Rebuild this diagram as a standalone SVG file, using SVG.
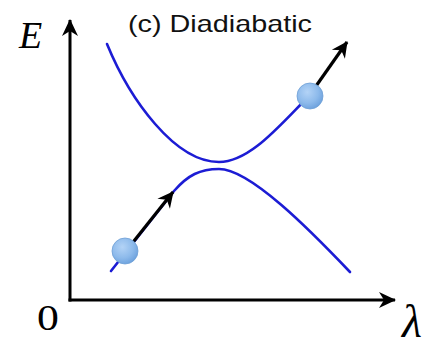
<svg xmlns="http://www.w3.org/2000/svg" width="433" height="347" viewBox="0 0 433 347">
<style>
.axis{stroke:#000;stroke-width:3;fill:none}
.curve{stroke:#1c1cd4;stroke-width:2.6;fill:none;stroke-linecap:round}
.arr{stroke:#000;stroke-width:3.2;fill:none}
.ball{fill:url(#bg);stroke:#6f9fd6;stroke-width:0.8}
.serif{font-family:"Liberation Serif","Times New Roman",serif;fill:#000}
.sans{font-family:"Liberation Sans",Arial,sans-serif;fill:#111}
</style>
<defs>
<marker id="ah" markerUnits="userSpaceOnUse" markerWidth="20" markerHeight="20" refX="0" refY="0" viewBox="-18 -10 20 20" orient="auto">
<path d="M1,0 L-16,-8 L-11,0 L-16,8 Z" fill="#000"/>
</marker>
<marker id="ah2" markerUnits="userSpaceOnUse" markerWidth="20" markerHeight="20" refX="0" refY="0" viewBox="-18 -10 20 20" orient="auto">
<path d="M1,0 L-15,-8 L-10,0 L-15,8 Z" fill="#000"/>
</marker>
<radialGradient id="bg" cx="0.4" cy="0.35" r="0.7">
<stop offset="0" stop-color="#b3d3f6"/>
<stop offset="0.6" stop-color="#8dbaeb"/>
<stop offset="1" stop-color="#6a9fdc"/>
</radialGradient>
</defs>
<g id="axes">
<line class="axis" x1="70" y1="301.5" x2="70" y2="20" marker-end="url(#ah)"/>
<line class="axis" x1="68.5" y1="300" x2="395" y2="300" marker-end="url(#ah)"/>
</g>
<g id="title"><text class="sans" x="128" y="32" font-size="24" textLength="184" lengthAdjust="spacingAndGlyphs">(c) Diadiabatic</text></g>
<g id="label-E"><text class="serif" x="19" y="48" font-size="38" font-style="italic">E</text></g>
<g id="label-0"><text class="serif" x="37" y="330" font-size="35" transform="translate(37 0) scale(1.25 1) translate(-37 0)">0</text></g>
<g id="label-lambda"><text class="serif" x="402" y="337" font-size="46" font-style="italic">λ</text></g>
<g id="upper-curve">
<path class="curve" d="M107,44 C130,100 175,162 219,162 C250,162 280,125 309,96"/>
</g>
<g id="lower-curve">
<path class="curve" d="M111,271 L174,191 C188,175 200,169 219,169 C250,169 310,230 350,272"/>
</g>
<g id="connectors">
<line class="arr" x1="126" y1="251" x2="173" y2="192" marker-end="url(#ah2)"/>
<line class="arr" x1="309" y1="96" x2="347" y2="42" marker-end="url(#ah2)"/>
</g>
<g id="ball-lower"><circle class="ball" cx="125" cy="251" r="13"/></g>
<g id="ball-upper"><circle class="ball" cx="310" cy="96" r="13"/></g>
</svg>
